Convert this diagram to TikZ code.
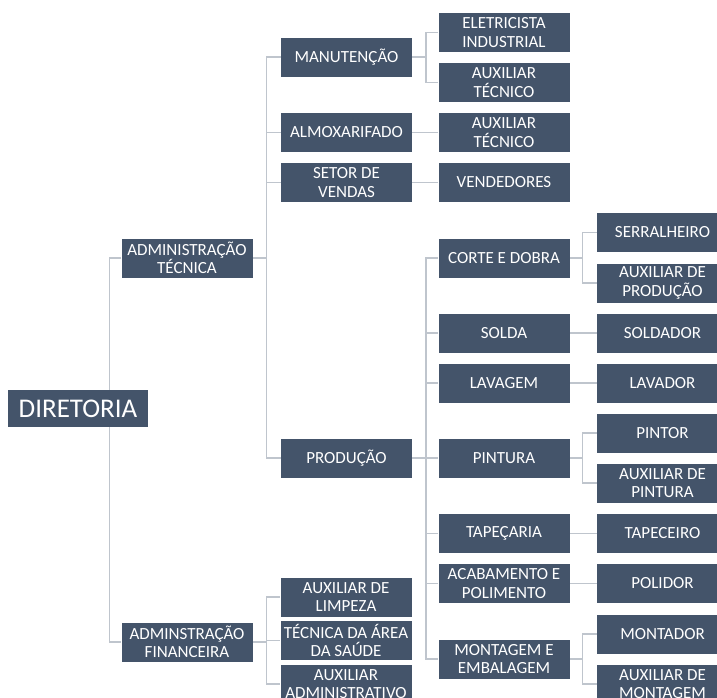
\documentclass[tikz,border=0pt]{standalone}
\usepackage{fontspec}
\setmainfont{Carlito}
\usepackage{tikz}
\usetikzlibrary{positioning,calc,backgrounds}
\definecolor{boxblue}{HTML}{44546A}
\definecolor{linegray}{HTML}{BFC5CD}

\begin{document}
\begin{tikzpicture}[x=1pt, y=-1pt, box node/.style={rectangle,fill=boxblue,text=white,align=center,minimum width=131pt,minimum height=39pt,inner sep=1pt,font=\fontsize{17}{18.5}\selectfont},big node/.style={box node,minimum width=140pt,minimum height=37pt,font=\fontsize{27}{30}\selectfont},link/.style={draw=linegray,line width=1.5pt}]
\useasboundingbox (0,0) rectangle (717,697);
\clip (0,0) rectangle (717,697);
\begin{scope}
\node[big node] (dir) at (78,408.5) {DIRETORIA};
\node[box node] (admtec) at (187,258) {ADMINISTRAÇÃO\\TÉCNICA};
\node[box node] (admfin) at (187,642) {ADMINSTRAÇÃO\\FINANCEIRA};
\node[box node] (manut) at (346.5,57) {MANUTENÇÃO};
\node[box node] (almox) at (346.5,132.5) {ALMOXARIFADO};
\node[box node] (vendas) at (346.5,182.5) {SETOR DE\\VENDAS};
\node[box node] (prod) at (346.5,458) {PRODUÇÃO};
\node[box node] (limpeza) at (346,597) {AUXILIAR DE\\LIMPEZA};
\node[box node] (saude) at (346,640.5) {TÉCNICA DA ÁREA\\DA SAÚDE};
\node[box node] (auxadm) at (346,684) {AUXILIAR\\ADMINISTRATIVO};
\node[box node] (eletr) at (504,32.5) {ELETRICISTA\\INDUSTRIAL};
\node[box node] (auxtec) at (504,82.5) {AUXILIAR\\TÉCNICO};
\node[box node] (auxalm) at (504,132.5) {AUXILIAR\\TÉCNICO};
\node[box node] (vend) at (504,182.5) {VENDEDORES};
\node[box node] (corte) at (504,258) {CORTE E DOBRA};
\node[box node] (solda) at (504,333) {SOLDA};
\node[box node] (lavagem) at (504,383) {LAVAGEM};
\node[box node] (pintura) at (504,458) {PINTURA};
\node[box node] (tapec) at (504,533.5) {TAPEÇARIA};
\node[box node] (acab) at (504,583.5) {ACABAMENTO E\\POLIMENTO};
\node[box node] (montagem) at (504,659) {MONTAGEM E\\EMBALAGEM};
\node[box node] (serr) at (662.5,232.5) {SERRALHEIRO};
\node[box node] (auxprod) at (662.5,283) {AUXILIAR DE\\PRODUÇÃO};
\node[box node] (soldador) at (662.5,333) {SOLDADOR};
\node[box node] (lavador) at (662.5,383) {LAVADOR};
\node[box node] (pintor) at (662.5,433) {PINTOR};
\node[box node] (auxpint) at (662.5,483) {AUXILIAR DE\\PINTURA};
\node[box node] (tapeceiro) at (662.5,533.5) {TAPECEIRO};
\node[box node] (polidor) at (662.5,583.5) {POLIDOR};
\node[box node] (montador) at (662.5,634) {MONTADOR};
\node[box node] (auxmont) at (662.5,684) {AUXILIAR DE\\MONTAGEM};
\end{scope}
\begin{scope}[on background layer]
\draw[link] (admtec.west) -- ++(-12,0) |- (admfin.west);
\draw[link] (admtec.east) -- ++(14,0) |- (manut.west);
\draw[link] (admtec.east) -- ++(14,0) |- (almox.west);
\draw[link] (admtec.east) -- ++(14,0) |- (vendas.west);
\draw[link] (admtec.east) -- ++(14,0) |- (prod.west);
\draw[link] (admfin.east) -- ++(14,0) |- (limpeza.west);
\draw[link] (admfin.east) -- ++(14,0) |- (saude.west);
\draw[link] (admfin.east) -- ++(14,0) |- (auxadm.west);
\draw[link] (manut.east) -- ++(14,0) |- (eletr.west);
\draw[link] (manut.east) -- ++(14,0) |- (auxtec.west);
\draw[link] (almox) -- (auxalm);
\draw[link] (vendas) -- (vend);
\draw[link] (prod.east) -- ++(14,0) |- (corte.west);
\draw[link] (prod.east) -- ++(14,0) |- (solda.west);
\draw[link] (prod.east) -- ++(14,0) |- (lavagem.west);
\draw[link] (prod.east) -- ++(14,0) |- (pintura.west);
\draw[link] (prod.east) -- ++(14,0) |- (tapec.west);
\draw[link] (prod.east) -- ++(14,0) |- (acab.west);
\draw[link] (prod.east) -- ++(14,0) |- (montagem.west);
\draw[link] (corte.east) -- ++(13,0) |- (serr.west);
\draw[link] (corte.east) -- ++(13,0) |- (auxprod.west);
\draw[link] (solda) -- (soldador);
\draw[link] (lavagem) -- (lavador);
\draw[link] (pintura.east) -- ++(13,0) |- (pintor.west);
\draw[link] (pintura.east) -- ++(13,0) |- (auxpint.west);
\draw[link] (tapec) -- (tapeceiro);
\draw[link] (acab) -- (polidor);
\draw[link] (montagem.east) -- ++(13,0) |- (montador.west);
\draw[link] (montagem.east) -- ++(13,0) |- (auxmont.west);
\end{scope}
\end{tikzpicture}
\end{document}
